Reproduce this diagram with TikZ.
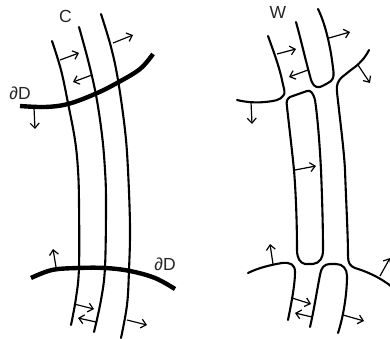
\documentclass[tikz,border=0pt]{standalone}
\usepackage{fontspec}
\setmainfont{Liberation Sans}
\usetikzlibrary{arrows.meta}
\tikzset{
 strand/.style={line width=2.1pt,line cap=round,line join=round,black},
 bnd/.style={line width=4.4pt,black},
 normalv/.style={line width=1.2pt,-{Straight Barb[length=5pt,width=9pt,line width=1.2pt]},black},
 lab/.style={font=\fontsize{17.5}{18}\selectfont,text=black!85,inner sep=0pt},
}
\begin{document}
\begin{tikzpicture}[x=1pt,y=-1pt]
\useasboundingbox (0,0) rectangle (390,339);
% left panel
\draw[strand] plot[smooth,tension=.6] coordinates {(52,41) (61,70) (68,103) (75,140) (78,170) (79,203) (79,267) (76,298) (71,325)};
\draw[strand] plot[smooth,tension=.6] coordinates {(79,27) (88,60) (96,95) (102,135) (105,170) (106,203) (105,267) (101,300) (94,332)};
\draw[strand] plot[smooth,tension=.6] coordinates {(101,14) (111,47) (118,80) (125,130) (128,170) (130,227) (129,270) (127,305) (121,338)};
\draw[bnd] plot[smooth,tension=.6] coordinates {(20,106) (45,107) (68,104) (95,94) (117,83) (140,69) (153,54)};
\draw[bnd] plot[smooth,tension=.6] coordinates {(31,278) (52,270) (78,268) (105,268) (130,271) (155,278) (175,289)};
\node[lab] (c) at (65.5,16) {C};
\node[lab] (d1) at (20,93) {∂D};
\node[lab] (d2) at (165,264.5) {∂D};
\draw[normalv] (60,60) -- (79,53);
\draw[normalv] (92,75) -- (73,82);
\draw[normalv] (113,43) -- (133,35);
\draw[normalv] (34,108) -- (35,129);
\draw[normalv] (56,267) -- (53,249);
\draw[normalv] (74,304) -- (94,309);
\draw[normalv] (96,322) -- (78,318);
\draw[normalv] (127,320) -- (147,325);
% right panel
\node[lab] (w) at (278,12.5) {W};
\draw[strand] (268,36) .. controls (275,55) and (280,70) .. (282,80) .. controls (284,90) and (286,93) .. (283,96) .. controls (280,100) and (275,101) .. (265,102) .. controls (255,103) and (245,102) .. (237,100);
\draw[strand] (296,22) .. controls (301,40) and (306,62) .. (310,76) .. controls (312,85) and (315,88) .. (320,87) .. controls (325,85) and (328,83) .. (331,81) .. controls (334,78) and (334,74) .. (333,68) .. controls (331,50) and (326,25) .. (318,9);
\draw[strand] (369,50) .. controls (365,58) and (360,63) .. (355,67) .. controls (348,72) and (345,75) .. (342,77) .. controls (338,81) and (336,85) .. (337,92) .. controls (340,120) and (344,150) .. (345,170) .. controls (346,200) and (348,235) .. (348,256) .. controls (348,263) and (350,266) .. (355,268) .. controls (365,271) and (380,277) .. (392,287);
\draw[strand] (290,97) -- (307,91) .. controls (311,90) and (313,93) .. (315,100) .. controls (318,120) and (320,150) .. (321,170) .. controls (322,195) and (323,225) .. (323,250) .. controls (323,258) and (320,263) .. (313,264) -- (305,264) .. controls (300,263) and (297,258) .. (297,250) .. controls (297,225) and (296,195) .. (294,170) .. controls (292,150) and (289,125) .. (287,107) .. controls (286,101) and (287,99) .. (290,97) -- cycle;
\draw[strand] (248,273) .. controls (258,268) and (270,265) .. (282,263) .. controls (291,262) and (295,265) .. (295,272) .. controls (295,285) and (291,305) .. (288,320);
\draw[strand] (310,327) .. controls (314,310) and (317,290) .. (320,275) .. controls (321,268) and (324,264) .. (330,264) -- (336,264) .. controls (343,264) and (347,269) .. (347,276) .. controls (347,295) and (343,318) .. (338,333);
\draw[normalv] (277,54) -- (296,49);
\draw[normalv] (308,70) -- (289,77);
\draw[normalv] (329,38) -- (350,32);
\draw[normalv] (358,65) -- (370,83);
\draw[normalv] (251,102) -- (252,124);
\draw[normalv] (295,170) -- (316,166);
\draw[normalv] (273,264) -- (270,244);
\draw[normalv] (292,298) -- (311,304);
\draw[normalv] (312,317) -- (295,313);
\draw[normalv] (343,315) -- (364,321);
\draw[normalv] (380,276) -- (390,258);
\end{tikzpicture}
\end{document}
